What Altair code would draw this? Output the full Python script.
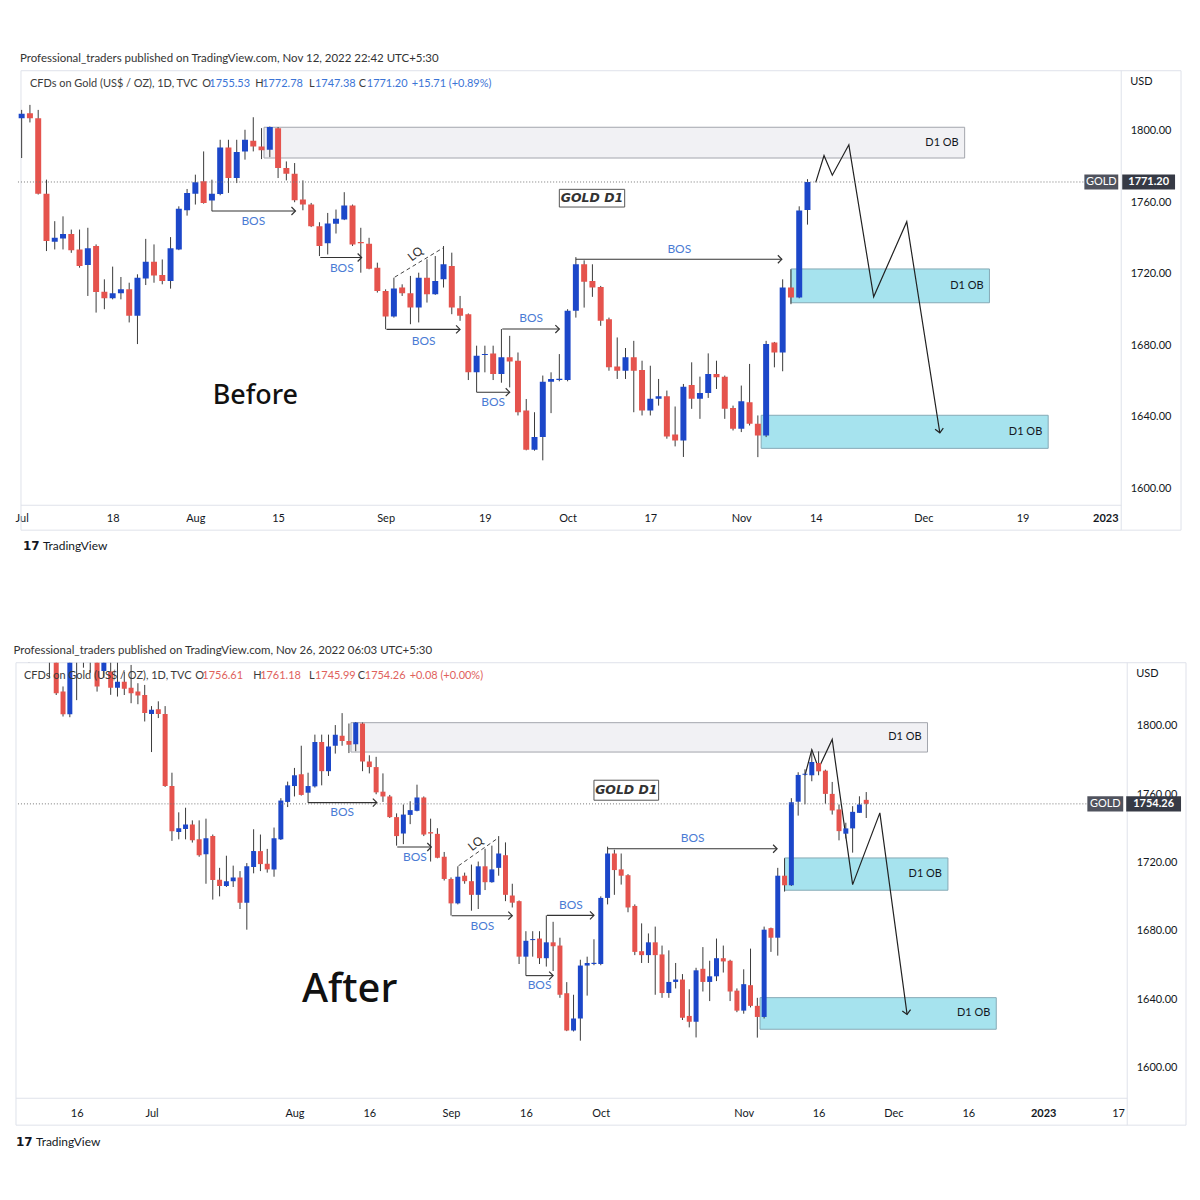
import altair as alt
import pandas as pd

# ---------------- candle data (trading-day index, 0 = 1 Jul 2022) ----------------
day_idx = list(range(-20, 106))
opens = [
    1869, 1851, 1841, 1852, 1853, 1848, 1871, 1820, 1806.8, 1838,
    1850, 1840, 1843, 1832, 1831.7, 1822.3, 1825.8, 1822.3, 1820.0, 1818.0,
    1806.9, 1809.6, 1806.9, 1764.7, 1737.8, 1739.6, 1742.2, 1733.5, 1724.8, 1735.4,
    1709.9, 1706.2, 1709.0, 1711.2, 1696.4, 1717.3, 1726.6, 1719.2, 1715.9, 1733.5,
    1755.4, 1764.7, 1771.6, 1760.8, 1764.5, 1790.5, 1773.4, 1788.3, 1794.2, 1791.1,
    1789.2, 1801.3, 1779.0, 1775.8, 1761.4, 1758.6, 1746.5, 1736.9, 1747.8, 1750.2,
    1758.0, 1737.7, 1736.7, 1723.3, 1710.3, 1696.0, 1712.2, 1709.0, 1701.0, 1717.7,
    1708.4, 1716.8, 1724.2, 1700.6, 1697.3, 1664.8, 1674.5, 1675.4, 1663.9, 1673.2,
    1671.3, 1643.4, 1621.5, 1628.6, 1659.6, 1660.5, 1660.5, 1699.2, 1725.2, 1715.9,
    1712.5, 1694.5, 1668.0, 1665.7, 1673.2, 1666.1, 1643.5, 1650.0, 1651.4, 1630.1,
    1626.7, 1657.7, 1650.0, 1653.3, 1663.9, 1662.4, 1644.9, 1633.2, 1648.1, 1636.0,
    1629.5, 1681.5, 1675.9, 1712.2, 1706.6, 1755.53, 1771.3, 1771.0, 1778.2, 1773.7,
    1760.1, 1751.0, 1736.8, 1739.9, 1749.0, 1756.61,
]
highs = [
    1874, 1854, 1855, 1860, 1857, 1875, 1878, 1823, 1842, 1857,
    1857, 1846, 1846, 1847, 1838, 1837.5, 1831.7, 1835.6, 1824.9, 1823.9,
    1811.5, 1814.3, 1811.5, 1772.5, 1749.3, 1752.0, 1744.6, 1744.6, 1745.6, 1736.3,
    1716.8, 1723.9, 1718.1, 1714.9, 1719.6, 1739.4, 1736.3, 1727.9, 1740.4, 1757.6,
    1767.3, 1775.3, 1788.3, 1772.5, 1794.8, 1794.8, 1794.8, 1800.4, 1807.4, 1801.3,
    1802.2, 1801.9, 1782.7, 1781.8, 1772.1, 1759.5, 1748.7, 1753.9, 1755.8, 1765.5,
    1758.6, 1745.6, 1740.0, 1726.1, 1711.2, 1717.7, 1714.0, 1718.7, 1720.5, 1728.0,
    1729.8, 1735.4, 1731.7, 1707.5, 1697.7, 1679.7, 1679.7, 1679.7, 1689.0, 1685.2,
    1675.9, 1649.9, 1642.5, 1663.0, 1664.8, 1675.0, 1700.1, 1729.2, 1727.4, 1725.2,
    1713.1, 1695.4, 1684.3, 1678.4, 1682.4, 1671.3, 1668.5, 1661.1, 1654.6, 1645.7,
    1658.3, 1670.4, 1662.4, 1675.4, 1671.3, 1663.0, 1646.2, 1657.4, 1669.5, 1640.7,
    1682.4, 1681.8, 1716.8, 1722.4, 1757.6, 1772.78, 1774.5, 1786.0, 1785.0, 1774.3,
    1767.1, 1753.9, 1743.2, 1752.9, 1758.7, 1761.18,
]
lows = [
    1850, 1838, 1837, 1846, 1843, 1828, 1818, 1805.4, 1805, 1815,
    1834, 1831, 1820, 1828, 1818.1, 1817.1, 1818, 1813.2, 1812.6, 1802.5,
    1784.6, 1804.5, 1764.2, 1732.6, 1733.5, 1733.5, 1731.6, 1723.3, 1707.5, 1698.2,
    1700.1, 1705.6, 1705.6, 1692.7, 1680.6, 1713.6, 1714.9, 1714.0, 1711.6, 1733.1,
    1752.4, 1758.6, 1759.1, 1754.9, 1763.8, 1765.1, 1770.6, 1783.7, 1788.3, 1784.0,
    1785.1, 1773.4, 1772.1, 1759.9, 1755.4, 1746.0, 1729.8, 1730.7, 1742.4, 1749.9,
    1735.4, 1720.5, 1722.4, 1709.4, 1688.9, 1695.4, 1707.5, 1691.7, 1692.7, 1703.8,
    1708.1, 1712.2, 1697.3, 1693.6, 1660.5, 1653.7, 1664.8, 1660.5, 1659.0, 1656.4,
    1640.7, 1621.2, 1621.0, 1615.6, 1642.0, 1659.8, 1659.8, 1695.4, 1701.0, 1707.0,
    1690.8, 1665.7, 1661.1, 1661.1, 1642.5, 1640.7, 1640.7, 1646.2, 1627.7, 1623.4,
    1617.5, 1644.4, 1638.8, 1650.5, 1655.5, 1638.8, 1632.3, 1631.4, 1635.1, 1617.4,
    1628.6, 1667.6, 1665.4, 1702.9, 1706.2, 1747.38, 1754.0, 1767.5, 1771.0, 1754.3,
    1748.0, 1732.9, 1734.0, 1725.7, 1749.0, 1745.99,
]
closes = [
    1851, 1841, 1852, 1853, 1848, 1871, 1819, 1806.8, 1838, 1850,
    1840, 1838, 1823, 1840, 1822.3, 1825.8, 1821.6, 1819.0, 1817.7, 1807.4,
    1809.3, 1806.9, 1764.7, 1738.2, 1740.0, 1742.2, 1733.0, 1724.2, 1734.1, 1709.7,
    1706.2, 1709.0, 1711.2, 1696.4, 1717.7, 1726.6, 1719.0, 1715.9, 1734.1, 1756.2,
    1765.1, 1771.0, 1759.5, 1764.7, 1790.5, 1773.4, 1787.9, 1794.8, 1791.1, 1788.9,
    1801.9, 1779.0, 1775.8, 1761.0, 1758.6, 1746.5, 1735.4, 1748.0, 1750.6, 1758.0,
    1736.3, 1736.9, 1722.7, 1710.3, 1696.0, 1711.6, 1709.0, 1701.0, 1717.7, 1708.4,
    1715.9, 1725.2, 1701.0, 1696.4, 1664.8, 1674.1, 1675.1, 1663.9, 1673.2, 1670.9,
    1642.5, 1621.5, 1628.6, 1659.6, 1661.1, 1661.2, 1699.2, 1725.2, 1715.5, 1712.2,
    1693.6, 1667.6, 1665.7, 1673.2, 1665.7, 1643.5, 1650.0, 1651.4, 1629.0, 1626.7,
    1656.8, 1650.0, 1653.3, 1663.9, 1662.0, 1644.4, 1633.2, 1648.7, 1636.0, 1629.5,
    1680.6, 1675.9, 1712.2, 1706.6, 1755.2, 1771.20, 1771.9, 1778.8, 1773.3, 1760.1,
    1750.4, 1738.3, 1739.9, 1749.6, 1753.9, 1754.26,
]

# ---------------- drawings (same anchors on both screenshots) ----------------
ob_kind = ["gray", "cyan", "cyan"]
ob_x1 = [29.3, 93.0, 89.4]
ob_x2 = [114.0, 117.0, 124.1]
ob_lo = [1784.6, 1703.7, 1622.3]
ob_hi = [1801.8, 1722.6, 1640.8]
ob_text = ["D1 OB", "D1 OB", "D1 OB"]

proj_i = [96, 97, 98, 100, 103, 107, 111]
proj_p = [1771, 1786, 1775, 1792, 1707, 1749, 1631]

bos_x1 = [23.0, 36.1, 44.1, 55.0, 58.1, 67.0]
bos_x2 = [33.1, 41.1, 53.0, 59.0, 65.0, 91.9]
bos_y = [1755.0, 1729.0, 1688.8, 1653.7, 1689.0, 1728.0]
bos_lx = [28.0, 38.7, 48.6, 57.0, 61.6, 79.5]
bos_ly = [1749.3, 1723.0, 1682.5, 1648.4, 1695.3, 1734.0]

lq_i = [45.1, 51.0]
lq_p = [1718.0, 1734.5]
lq_label = (47.6, 1731.0)

top_ticks = [0, 11, 21, 31, 44, 56, 66, 76, 87, 96, 109, 121, 131]
top_tick_labels = ["Jul", "18", "Aug", "15", "Sep", "19", "Oct", "17", "Nov", "14", "Dec", "19", "2023"]
bot_ticks = [-11, 0, 21, 32, 44, 55, 66, 87, 98, 109, 120, 131, 142]
bot_tick_labels = ["16", "Jul", "Aug", "16", "Sep", "16", "Oct", "Nov", "16", "Dec", "16", "2023", "17"]
price_ticks = list(range(1600, 1821, 20))

FONT = "Lato"
RED = "#e5534d"
BLUE = "#1c47c9"
WICK = "#3a3a3a"
TXT = "#131722"
BOSC = "#4a7bd4"
LINE = "#dfe2ea"

candles = pd.DataFrame({"i": day_idx, "o": opens, "h": highs, "l": lows, "c": closes})
ONE = pd.DataFrame({"k": [0]})


def panel(cfg):
    W, H = cfg["W"], cfg["H"]
    xs = alt.Scale(domain=cfg["xdom"], nice=False, zero=False, padding=0)
    ys = alt.Scale(domain=cfg["ydom"], nice=False, zero=False, padding=0)
    vals, labs = cfg["ticks"], cfg["labels"]
    expr = ("[" + ",".join("'%s'" % s for s in labs) + "][indexof(["
            + ",".join(str(v) for v in vals) + "], datum.value)]")
    xaxis = alt.Axis(values=vals, labelExpr=expr, title=None, grid=False, ticks=False,
                     domain=False, labelFont=FONT, labelFontSize=11, labelColor=TXT,
                     labelPadding=cfg["xlp"], labelOverlap=False, labelFlush=cfg["flush"],
                     labelFlushOffset=0,
                     labelFontWeight={"condition": {"test": "datum.value == 131", "value": "bold"},
                                      "value": "normal"})
    yaxis = alt.Axis(orient="right", values=price_ticks, format=".2f", title=None, grid=False,
                     ticks=False, domain=False, labelFont=FONT, labelFontSize=11,
                     labelColor=TXT, labelPadding=9, labelOverlap=False)
    X = lambda f, **k: alt.X(f, scale=xs, **k)
    Y = lambda f, **k: alt.Y(f, scale=ys, **k)

    d = candles[(candles.i >= cfg["i0"]) & (candles.i <= cfg["i1"])]
    layers = []

    # outer frame around plot + axes, and separators
    fl = cfg["FL"]
    layers.append(alt.Chart(ONE).mark_rect(fillOpacity=0, stroke=LINE, strokeWidth=1, clip=False)
                  .encode(x=alt.value(fl), x2=alt.value(cfg["FW"]), y=alt.value(0), y2=alt.value(cfg["FH"])))
    layers.append(alt.Chart(ONE).mark_rule(color=LINE, strokeWidth=1, clip=False)
                  .encode(x=alt.value(W), y=alt.value(0), y2=alt.value(cfg["FH"])))
    layers.append(alt.Chart(ONE).mark_rule(color=LINE, strokeWidth=1, clip=False)
                  .encode(x=alt.value(fl), x2=alt.value(W), y=alt.value(H)))

    obs = pd.DataFrame({"kind": ob_kind, "x1": ob_x1, "x2": ob_x2, "lo": ob_lo, "hi": ob_hi,
                        "t": ob_text})
    obs["mid"] = (obs.lo + obs.hi) / 2
    layers.append(alt.Chart(obs).mark_rect(strokeWidth=1, clip=True).encode(
        x=X("x1:Q", axis=xaxis), x2="x2:Q", y=Y("lo:Q", axis=yaxis), y2="hi:Q",
        fill=alt.Fill("kind:N", scale=alt.Scale(domain=["gray", "cyan"], range=["#f1f1f4", "#a6e3ee"]), legend=None),
        stroke=alt.Stroke("kind:N", scale=alt.Scale(domain=["gray", "cyan"], range=["#a3a6ad", "#86aab6"]), legend=None)))
    layers.append(alt.Chart(obs).mark_text(align="right", dx=-6, font=FONT, fontSize=11, color=TXT).encode(
        x=X("x2:Q"), y=Y("mid:Q"), text="t:N"))

    # projected path
    proj = pd.DataFrame({"i": proj_i, "p": proj_p, "s": list(range(len(proj_i)))})
    layers.append(alt.Chart(proj).mark_line(color="#222", strokeWidth=1.2, clip=True).encode(
        x=X("i:Q"), y=Y("p:Q"), order="s:O"))
    layers.append(alt.Chart(proj.tail(1)).mark_point(shape="M-1,-1L0,0L-1,1", size=70, filled=False,
                                                   color="#222", strokeWidth=1.2, angle=81, opacity=1).encode(
        x=X("i:Q"), y=Y("p:Q")))

    # candles
    col = alt.condition("datum.c >= datum.o", alt.value(BLUE), alt.value(RED))
    layers.append(alt.Chart(d).mark_rule(color=WICK, strokeWidth=1, clip=True).encode(
        x=X("i:Q"), y=Y("l:Q"), y2="h:Q"))
    layers.append(alt.Chart(d).mark_bar(size=cfg["bw"], clip=True).encode(
        x=X("i:Q"), y=Y("o:Q"), y2="c:Q", color=col))

    # BOS
    bos = pd.DataFrame({"x1": bos_x1, "x2": bos_x2, "y": bos_y, "lx": bos_lx, "ly": bos_ly})
    layers.append(alt.Chart(bos).mark_rule(color="#333", strokeWidth=1.1).encode(
        x=X("x1:Q"), x2="x2:Q", y=Y("y:Q")))
    layers.append(alt.Chart(bos).mark_point(shape="M-1,-1L0,0L-1,1", size=64, filled=False,
                                          color="#333", strokeWidth=1.2, opacity=1).encode(
        x=X("x2:Q"), y=Y("y:Q")))
    layers.append(alt.Chart(bos).mark_text(text="BOS", font=FONT, fontSize=12, color=BOSC).encode(
        x=X("lx:Q"), y=Y("ly:Q")))

    # LQ
    lq = pd.DataFrame({"i": lq_i, "p": lq_p})
    layers.append(alt.Chart(lq).mark_line(color="#444", strokeWidth=1, strokeDash=[4, 3]).encode(
        x=X("i:Q"), y=Y("p:Q")))
    layers.append(alt.Chart(ONE).mark_text(text="LQ", font=FONT, fontSize=12, color="#333", angle=322).encode(
        x=alt.X(datum=lq_label[0], scale=xs), y=alt.Y(datum=lq_label[1], scale=ys)))

    # GOLD D1 label
    g = cfg["gold_box"]
    layers.append(alt.Chart(ONE).mark_rect(fill="white", stroke="#555", strokeWidth=1).encode(
        x=alt.X(datum=g[0], scale=xs), x2=alt.X2(datum=g[1]),
        y=alt.Y(datum=g[2], scale=ys), y2=alt.Y2(datum=g[3])))
    layers.append(alt.Chart(ONE).mark_text(text="GOLD D1", font="DejaVu Sans", fontSize=12.5,
                                           fontStyle="italic", fontWeight="bold", color="#333").encode(
        x=alt.X(datum=(g[0] + g[1]) / 2, scale=xs), y=alt.Y(datum=(g[2] + g[3]) / 2, scale=ys)))

    # Before / After
    b = cfg["big"]
    layers.append(alt.Chart(ONE).mark_text(text=b[0], align="left", font="Noto Sans", fontSize=b[3],
                                           fontWeight=500, color="#111").encode(
        x=alt.X(datum=b[1], scale=xs), y=alt.Y(datum=b[2], scale=ys)))

    # last price line and tags
    last = cfg["last"]
    dh = cfg["tag_h"]
    layers.append(alt.Chart(ONE).mark_rule(color="#777", strokeWidth=1, strokeDash=[1, 2]).encode(
        x=alt.value(0), x2=alt.value(cfg["tag"][0]), y=alt.Y(datum=last, scale=ys)))
    t = cfg["tag"]
    layers.append(alt.Chart(ONE).mark_rect(fill="#50535e", clip=False).encode(
        x=alt.value(t[0]), x2=alt.value(t[1]), y=alt.Y(datum=last + dh, scale=ys), y2=alt.Y2(datum=last - dh)))
    layers.append(alt.Chart(ONE).mark_rect(fill="#363a45", clip=False).encode(
        x=alt.value(t[2]), x2=alt.value(t[3]), y=alt.Y(datum=last + dh, scale=ys), y2=alt.Y2(datum=last - dh)))
    layers.append(alt.Chart(ONE).mark_text(text="GOLD", font=FONT, fontSize=11, color="white", clip=False).encode(
        x=alt.value((t[0] + t[1]) / 2), y=alt.Y(datum=last, scale=ys)))
    layers.append(alt.Chart(ONE).mark_text(text="%.2f" % last, font=FONT, fontSize=11, fontWeight="bold",
                                           color="white", clip=False).encode(
        x=alt.value((t[2] + t[3]) / 2), y=alt.Y(datum=last, scale=ys)))
    layers.append(alt.Chart(ONE).mark_text(text="USD", align="left", font=FONT, fontSize=11, color=TXT,
                                           clip=False).encode(x=alt.value(W + 9), y=alt.value(11)))

    # legend line
    for s, xx, c in cfg["legend"]:
        layers.append(alt.Chart(ONE).mark_text(text=s, align="left", font=FONT, fontSize=11, color=c,
                                               clip=False).encode(x=alt.value(xx), y=alt.value(13)))
    # footer
    fy = H + cfg["foot"]
    layers.append(alt.Chart(ONE).mark_text(text="17", align="left", font="DejaVu Sans", fontSize=12,
                                           fontWeight="bold", color=TXT, clip=False).encode(
        x=alt.value(cfg["fx"]), y=alt.value(fy)))
    layers.append(alt.Chart(ONE).mark_text(text="TradingView", align="left", font=FONT, fontSize=12,
                                           color=TXT, clip=False).encode(
        x=alt.value(cfg["fx"] + 20), y=alt.value(fy)))

    return alt.layer(*layers).properties(
        width=W, height=H,
        title=alt.TitleParams(cfg["title"], anchor="start", font=FONT, fontSize=11.5, fontWeight="normal",
                              color="#333", offset=6, dx=cfg["tdx"]))


GREY = "#3b3b3b"
top_cfg = dict(
    W=1107, H=436, xdom=[-0.446, 132.93], ydom=[1590.5, 1833.4], i0=0, i1=95,
    ticks=top_ticks, labels=top_tick_labels, flush=True, bw=6, xlp=7,
    FL=3, FW=1167, FH=461, gold_box=[65.0, 72.9, 1757.2, 1767.1],
    big=("Before", 23.1, 1651.3, 27), last=1771.20, tag_h=4.2,
    tag=[1070, 1104, 1108, 1161],
    legend=[("CFDs on Gold (US$ / OZ), 1D, TVC", 12, GREY), ("O", 185, GREY), ("1755.53", 192, "#3b74d6"),
            ("H", 238, GREY), ("1772.78", 245, "#3b74d6"), ("L", 292, GREY), ("1747.38", 298, "#3b74d6"),
            ("C", 342, GREY), ("1771.20", 350, "#3b74d6"), ("+15.71 (+0.89%)", 395, "#3b74d6")],
    foot=41, fx=5, tdx=5,
    title="Professional_traders published on TradingView.com, Nov 12, 2022 22:42 UTC+5:30",
)
bot_cfg = dict(
    W=1113, H=437, xdom=[-19.62, 143.34], ydom=[1581.9, 1836.9], i0=-20, i1=105,
    ticks=bot_ticks, labels=bot_tick_labels, flush=False, bw=5, xlp=9,
    FL=-2, FW=1172, FH=464, gold_box=[65.0, 74.5, 1756.4, 1768.1],
    big=("After", 22.1, 1645.0, 40), last=1754.26, tag_h=4.4,
    tag=[1073, 1109, 1112, 1167],
    legend=[("CFDs on Gold (US$ / OZ), 1D, TVC", 6, GREY), ("O", 178, GREY), ("1756.61", 185, "#e0615c"),
            ("H", 236, GREY), ("1761.18", 243, "#e0615c"), ("L", 292, GREY), ("1745.99", 298, "#e0615c"),
            ("C", 341, GREY), ("1754.26", 348, "#e0615c"), ("+0.08 (+0.00%)", 393, "#e0615c")],
    foot=44, fx=-2, tdx=-2,
    title="Professional_traders published on TradingView.com, Nov 26, 2022 06:03 UTC+5:30",
)

chart = alt.vconcat(panel(top_cfg), panel(bot_cfg), spacing=93).properties(
    padding={"left": 5, "top": 43, "right": 5, "bottom": 5}
).configure(background="white").configure_view(strokeWidth=0, strokeOpacity=0)

chart.save("out.html", embed_options={"renderer": "svg", "actions": False})
